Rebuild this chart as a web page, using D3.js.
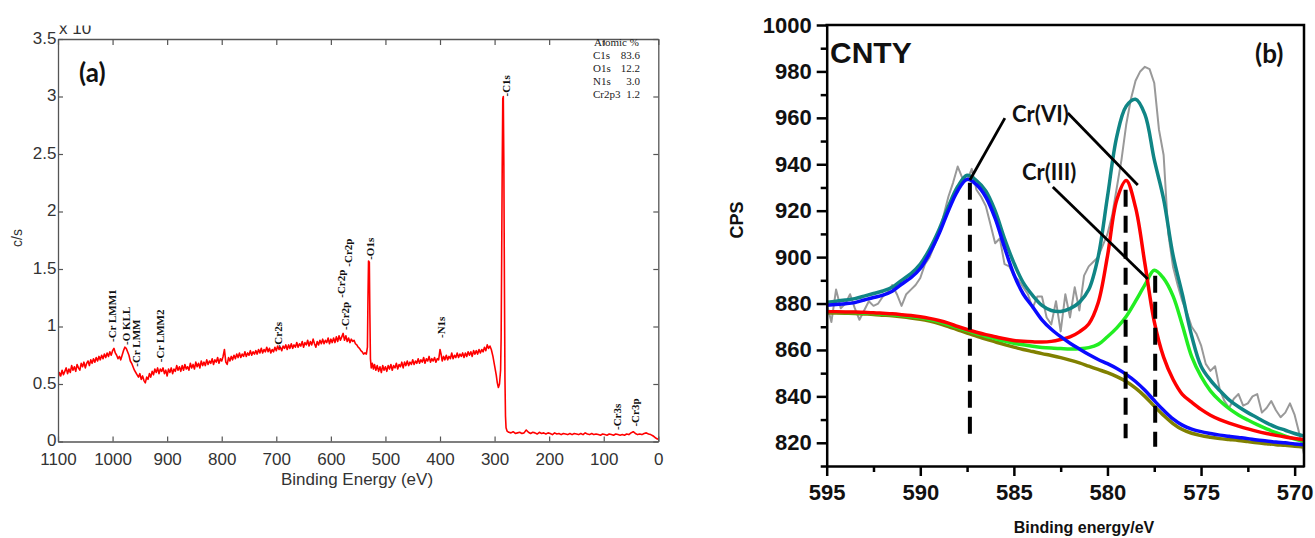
<!DOCTYPE html>
<html>
<head>
<meta charset="utf-8">
<script src="https://cdn.jsdelivr.net/npm/d3@7"></script>
<style>
  html, body { margin: 0; padding: 0; background: #fff; overflow: hidden; }
  svg { display: block; }
</style>
</head>
<body>
<svg id="fig" width="1315" height="538"></svg>
<script>
// ---------------- (a) XPS survey spectrum ----------------
// [binding energy (eV), counts (x10^4 c/s)]
const survey = [
  [1100,.55],[1097.5,.60],[1095,.57],[1092.5,.62],[1090,.58],[1087.5,.61],[1085,.64],[1082.5,.59],[1080,.63],[1077.5,.60],
  [1075,.66],[1072.5,.62],[1070,.65],[1067.5,.61],[1065,.67],[1062.5,.64],[1060,.62],[1057.5,.68],[1055,.65],[1052.5,.69],
  [1050,.64],[1047.5,.68],[1045,.70],[1042.5,.66],[1040,.71],[1037.5,.68],[1035,.72],[1032.5,.69],[1030,.73],[1027.5,.70],
  [1025,.74],[1022.5,.71],[1020,.75],[1017.5,.72],[1015,.76],[1012.5,.73],[1010,.77],[1007.5,.74],[1005,.78],[1002.5,.75],
  [1000,.79],[997.5,.81],[995,.77],[992.5,.75],[990,.72],[987.5,.74],[985,.71],[982.5,.75],[980,.79],[977.5,.82],
  [975,.81],[972.5,.78],[970,.75],[967.5,.70],[965,.68],[962.5,.65],[960,.62],[957.5,.60],[955,.58],[952.5,.56],
  [950,.59],[947.5,.54],[945,.57],[942.5,.53],[940,.51],[937.5,.56],[935,.54],[932.5,.59],[930,.56],[927.5,.61],
  [925,.58],[922.5,.63],[920,.60],[917.5,.64],[915,.59],[912.5,.63],[910,.61],[907.5,.64],[905,.59],[902.5,.62],
  [900,.57],[897.5,.63],[895,.60],[892.5,.64],[890,.59],[887.5,.63],[885,.61],[882.5,.66],[880,.62],[877.5,.65],
  [875,.61],[872.5,.66],[870,.62],[867.5,.67],[865,.63],[862.5,.65],[860,.62],[857.5,.68],[855,.64],[852.5,.67],
  [850,.63],[847.5,.69],[845,.65],[842.5,.68],[840,.64],[837.5,.70],[835,.66],[832.5,.69],[830,.66],[827.5,.71],
  [825,.67],[822.5,.70],[820,.68],[817.5,.72],[815,.67],[812.5,.71],[810,.69],[807.5,.73],[805,.68],[802.5,.72],
  [800,.70],[797.5,.74],[795,.80],[792.5,.69],[790,.67],[787.5,.73],[785,.70],[782.5,.74],[780,.71],[777.5,.75],
  [775,.72],[772.5,.76],[770,.73],[767.5,.77],[765,.73],[762.5,.76],[760,.74],[757.5,.78],[755,.74],[752.5,.77],
  [750,.75],[747.5,.79],[745,.75],[742.5,.78],[740,.76],[737.5,.79],[735,.76],[732.5,.80],[730,.77],[727.5,.81],
  [725,.77],[722.5,.80],[720,.78],[717.5,.82],[715,.78],[712.5,.81],[710,.77],[707.5,.80],[705,.78],[702.5,.82],
  [700,.79],[697.5,.83],[695,.80],[692.5,.82],[690,.79],[687.5,.83],[685,.81],[682.5,.84],[680,.80],[677.5,.84],
  [675,.81],[672.5,.85],[670,.81],[667.5,.84],[665,.82],[662.5,.86],[660,.82],[657.5,.85],[655,.83],[652.5,.87],
  [650,.82],[647.5,.86],[645,.84],[642.5,.88],[640,.83],[637.5,.87],[635,.84],[632.5,.89],[630,.85],[627.5,.82],
  [625,.87],[622.5,.84],[620,.88],[617.5,.85],[615,.89],[612.5,.85],[610,.88],[607.5,.86],[605,.90],[602.5,.85],
  [600,.89],[597.5,.86],[595,.90],[592.5,.86],[590,.91],[587.5,.87],[585,.92],[582.5,.88],[580,.91],[577.5,.94],
  [575,.88],[572.5,.92],[570,.87],[567.5,.90],[565,.86],[562.5,.89],[560,.87],[557.5,.88],[555,.85],[552.5,.84],
  [550,.82],[547.5,.81],[545,.79],[542.5,.78],[540,.76],[537.5,.77],[535,.76],[533,.82],[532,1.25],[531,1.57],
  [529.5,1.56],[528.5,1.10],[527.5,.72],[526,.64],[524,.68],[522,.63],[520,.67],[517.5,.62],[515,.66],[512.5,.61],
  [510,.65],[507.5,.60],[505,.66],[502.5,.62],[500,.65],[497.5,.61],[495,.66],[492.5,.63],[490,.67],[487.5,.62],
  [485,.66],[482.5,.64],[480,.68],[477.5,.63],[475,.67],[472.5,.65],[470,.69],[467.5,.64],[465,.69],[462.5,.66],
  [460,.70],[457.5,.66],[455,.69],[452.5,.67],[450,.71],[447.5,.67],[445,.70],[442.5,.68],[440,.72],[437.5,.68],
  [435,.71],[432.5,.69],[430,.73],[427.5,.68],[425,.72],[422.5,.70],[420,.74],[417.5,.69],[415,.72],[412.5,.70],
  [410,.73],[407.5,.69],[405,.72],[402.5,.71],[400,.80],[398,.76],[396,.70],[393.5,.74],[391,.71],[388.5,.75],
  [386,.71],[383.5,.74],[381,.72],[378.5,.77],[376,.72],[373.5,.75],[371,.73],[368.5,.77],[366,.73],[363.5,.76],
  [361,.74],[358.5,.77],[356,.73],[353.5,.77],[351,.74],[348.5,.78],[346,.75],[343.5,.78],[341,.74],[338.5,.79],
  [336,.76],[333.5,.79],[331,.76],[328.5,.80],[326,.77],[323.5,.80],[321,.78],[318.5,.82],[316,.79],[313.5,.84],
  [311,.81],[308.5,.83],[306,.80],[303,.74],[300,.66],[297,.58],[295,.51],[293,.47],[291,.50],[289,.62],
  [288,.90],[287,1.6],[286,2.4],[285,2.98],[284,3.0],[283,2.4],[282,1.4],[281,.55],[280,.22],[279,.12],
  [277,.09],[274,.08],[270,.075],[266,.085],[262,.07],[258,.075],[254,.08],[250,.07],[246,.075],[242,.10],
  [238,.08],[234,.07],[230,.08],[226,.075],[222,.065],[218,.08],[214,.07],[210,.075],[206,.065],[202,.075],
  [198,.07],[194,.06],[190,.075],[186,.065],[182,.07],[178,.06],[174,.07],[170,.065],[166,.06],[162,.07],
  [158,.06],[154,.07],[150,.065],[146,.06],[142,.07],[138,.06],[134,.075],[130,.065],[126,.06],[122,.07],
  [118,.06],[114,.065],[110,.06],[106,.055],[102,.065],[98,.06],[94,.055],[90,.065],[86,.06],[82,.055],
  [78,.065],[74,.06],[70,.055],[66,.06],[62,.055],[58,.065],[54,.06],[50,.075],[46,.085],[42,.07],
  [38,.06],[34,.065],[30,.06],[26,.07],[22,.075],[18,.065],[14,.06],[10,.05],[6,.035],[3,.025],[0,.02]
];
const surveyEnergyTicks = [1100,1000,900,800,700,600,500,400,300,200,100,0];
const surveyCountTicks = [0,0.5,1,1.5,2,2.5,3,3.5];

// peak identification labels: text, energy, level where the label starts
const peakLabelText   = ["-Cr LMM1","-O KLL","-Cr LMM","-Cr LMM2","-Cr2s","-Cr2p","-Cr2p","-Cr2p","-O1s","-N1s","-C1s","-Cr3s","-Cr3p"];
const peakLabelEnergy = [1000.2, 975.8, 956.2, 913.5, 697.2, 574.3, 581.7, 568.9, 528.6, 397.1, 277.9, 75.7, 42.7];
const peakLabelLevel  = [0.865, 0.84, 0.65, 0.69, 0.81, 0.97, 1.25, 1.52, 1.58, 0.90, 3.0, 0.10, 0.13];

// quantification table
const atomicElement = ["C1s","O1s","N1s","Cr2p3"];
const atomicPercent = [83.6, 12.2, 3.0, 1.2];

// ---------------- (b) Cr 2p high resolution ----------------
const fitEnergy = [595,594.5,594,593.5,593,592.5,592,591.5,591,590.5,590,589.5,589,588.5,588,587.5,587,586.5,586,585.5,
  585,584.5,584,583.5,583,582.5,582,581.5,581,580.5,580,579.5,579,578.5,578,577.5,577,576.5,576,575.5,
  575,574.5,574,573.5,573,572.5,572,571.5,571,570.5,570,569.5];
const background = [876.0,875.9,875.8,875.7,875.5,875.3,875.0,874.7,874.3,873.8,873.2,872.4,871.4,870.1,868.7,867.3,866.0,864.7,863.5,862.3,
  861.2,860.2,859.3,858.4,857.6,856.7,855.6,854.4,853.0,851.6,850.2,848.5,846.4,843.5,840.0,835.8,831.8,828.3,825.7,824.1,
  823.1,822.4,821.8,821.4,821.0,820.5,820.0,819.6,819.2,818.9,818.5,818.2];
const peakBlue = [879.3,879.6,879.9,880.4,881.5,882.6,883.6,885.3,888.3,891.1,895.1,901.7,910.0,920.0,928.6,933.5,931.2,925.9,916.7,904.2,
  892.5,884.1,878.6,873.0,868.9,865.7,862.9,860.4,858.0,855.9,854.1,852.0,849.5,846.4,842.6,838.2,834.0,830.3,827.6,825.9,
  824.8,824.0,823.3,822.8,822.3,821.8,821.2,820.8,820.3,820.0,819.5,819.2];
const peakRed = [876.5,876.45,876.4,876.35,876.2,876.05,875.8,875.55,875.2,874.8,874.3,873.6,872.7,871.55,870.1,868.8,867.65,866.6,865.7,864.8,
  864.1,863.7,863.5,863.4,863.7,864.5,865.6,867.8,871.2,880.2,900.4,924.7,933.0,921.4,897.2,872.2,856.9,847.4,840.9,837.5,
  834.4,831.9,830.0,828.5,827.2,826.0,824.9,824.0,823.2,822.5,821.9,821.3];
const peakGreen = [876.3,876.2,876.15,876.1,875.9,875.75,875.5,875.2,874.85,874.4,873.85,873.1,872.15,870.9,869.6,868.3,867.1,865.9,864.85,863.8,
  862.9,862.2,861.6,861.1,860.8,860.6,860.4,860.5,861.0,862.4,865.7,869.5,874.4,881.0,888.0,894.3,890.8,883.3,870.7,857.1,
  848.6,842.4,838.1,834.7,832.0,829.8,827.8,826.0,824.4,822.9,821.6,820.5];
const envelope = [880.6,881.0,881.5,882.1,883.2,884.3,885.4,887.0,890.0,892.9,897.0,903.5,911.8,921.8,930.4,935.3,933.0,928.5,919.9,908.0,
  897.5,889.0,883.5,879.2,877.0,876.6,877.8,880.5,886.0,900.0,926.0,952.0,965.0,968.0,961.5,942.0,925.0,901.0,884.0,866.0,
  853.0,847.0,842.5,838.5,835.5,833.0,830.8,828.6,826.8,825.4,824.0,822.9];
// measured spectrum [binding energy, CPS]
const rawSpectrum = [
  [595,880],[594.75,872],[594.5,886],[594.25,878],[594,880],[593.75,884],[593.5,878],[593.25,873],[593,877],[592.75,881],
  [592.5,879],[592.25,880],[592,883],[591.75,885],[591.5,888],[591.25,884],[591,879],[590.75,884],[590.5,886],[590.25,888],
  [590,891],[589.75,897],[589.5,900],[589.25,905],[589,910],[588.75,918],[588.5,926],[588.25,932],[588,939],[587.75,934],
  [587.5,933],[587.25,938],[587,929],[586.75,926],[586.5,922],[586.25,914],[586,906],[585.75,908],[585.5,897],[585.25,896],
  [585,892],[584.75,890],[584.5,887],[584.25,884],[584,878],[583.75,883],[583.5,883],[583.25,874],[583,871],[582.75,881],
  [582.5,868],[582.25,884],[582,874],[581.75,887],[581.5,877],[581.25,892],[581,896],[580.75,898],[580.5,900],[580.25,905],
  [580,910],[579.75,918],[579.5,930],[579.25,942],[579,957],[578.75,968],[578.5,976],[578.25,980],[578,982],[577.75,981],
  [577.5,975],[577.25,955],[577,944],[576.75,910],[576.5,896],[576.25,888],[576,881],[575.75,876],[575.5,870],[575.25,867],
  [575,862],[574.75,854],[574.5,851],[574.25,853],[574,843],[573.75,838],[573.5,835],[573.25,839],[573,841],[572.75,836],
  [572.5,837],[572.25,840],[572,841],[571.75,833],[571.5,835],[571.25,838],[571,834],[570.75,831],[570.5,833],[570.25,837],
  [570,832],[569.75,824],[569.5,815]
];
const energyTicks = [595,590,585,580,575,570];
const energyMinorTicks = [592.5,587.5,582.5,577.5,572.5];
const cpsTicks = [820,840,860,880,900,920,940,960,980,1000];
const cpsMinorTicks = [810,830,850,870,890,910,930,950,970,990];

// component peak positions and the span of their marker lines
const peakEnergy = [587.35, 579.03, 577.45];
const peakTop    = [932, 929, 892];
const peakFloor  = [822, 822, 818.3];

// assignment callouts
const calloutText = ["Cr(VI)", "Cr(III)"];
const calloutPos  = [[585.1, 958.2], [584.57, 933.2]];
const leaderFrom  = [[585.48, 959.9], [582.12, 962.1], [582.92, 930.2]];
const leaderTo    = [[587.35, 933.2], [578.38, 931.1], [577.85, 890.6]];

// =====================================================================
const svg = d3.select("#fig");
const defs = svg.append("defs");
const SANS = "'Liberation Sans', Arial, sans-serif";
const SERIF = "'Liberation Serif', 'Times New Roman', serif";
const HUMAN = "Lato, 'Open Sans', sans-serif";

// ---------------- panel (a) ----------------
const xA = d3.scaleLinear().domain([1100, 0]).range([58, 658.3]);
const yA = d3.scaleLinear().domain([0, 3.5]).range([441.5, 39]);
const gA = svg.append("g");
const frameA = "#555";

defs.append("clipPath").attr("id", "clipA").append("rect")
  .attr("x", xA(1100)).attr("y", yA(3.5))
  .attr("width", xA(0) - xA(1100)).attr("height", yA(0) - yA(3.5));
defs.append("clipPath").attr("id", "clipTop").append("rect")
  .attr("x", 0).attr("y", 25.5).attr("width", 700).attr("height", 40);

gA.append("path").datum(survey)
  .attr("clip-path", "url(#clipA)")
  .attr("fill", "none").attr("stroke", "#ff0000").attr("stroke-width", 1.6)
  .attr("stroke-linejoin", "round")
  .attr("d", d3.line().x(d => xA(d[0])).y(d => yA(d[1])));

function styleAxisA(g) {
  g.attr("font-family", SANS).attr("font-size", 17);
  g.select(".domain").attr("stroke", frameA).attr("stroke-width", 1.3);
  g.selectAll(".tick line").attr("stroke", frameA).attr("stroke-width", 1.2);
  g.selectAll(".tick text").attr("fill", "#333");
}
gA.append("g").attr("transform", `translate(0,${yA(0)})`)
  .call(d3.axisBottom(xA).tickValues(surveyEnergyTicks).tickSizeInner(-5).tickSizeOuter(0)
    .tickPadding(11.5).tickFormat(d3.format("d")))
  .call(styleAxisA);
gA.append("g").attr("transform", `translate(0,${yA(3.5)})`)
  .call(d3.axisTop(xA).tickValues(surveyEnergyTicks).tickSizeInner(-6).tickSizeOuter(0).tickFormat(""))
  .call(styleAxisA);
gA.append("g").attr("transform", `translate(${xA(1100)},0)`)
  .call(d3.axisLeft(yA).tickValues(surveyCountTicks).tickSizeInner(-5).tickSizeOuter(0)
    .tickPadding(1.5).tickFormat(d => String(d)))
  .call(styleAxisA)
  .call(g => g.selectAll(".tick text").attr("dy", "0.26em"));
gA.append("g").attr("transform", `translate(${xA(0)},0)`)
  .call(d3.axisRight(yA).tickValues(surveyCountTicks).tickSizeInner(-5).tickSizeOuter(0).tickFormat(""))
  .call(styleAxisA);

// exponent marker above the frame (upper part cut off)
gA.append("text").attr("clip-path", "url(#clipTop)")
  .attr("x", 59).attr("y", 33.5)
  .attr("font-family", SANS).attr("font-size", 17).attr("fill", "#333")
  .text("x 10");

gA.append("text").attr("x", 22).attr("y", 238)
  .attr("transform", "rotate(-90,22,238)")
  .attr("text-anchor", "middle")
  .attr("font-family", SANS).attr("font-size", 14).attr("fill", "#333")
  .text("c/s");
gA.append("text").attr("x", 357).attr("y", 485)
  .attr("text-anchor", "middle")
  .attr("font-family", SANS).attr("font-size", 17).attr("fill", "#333")
  .text("Binding Energy (eV)");
gA.append("text").attr("x", 79).attr("y", 82)
  .attr("font-family", HUMAN).attr("font-weight", "bold").attr("font-size", 26).attr("fill", "#111")
  .text("(a)");

// peak identifications
gA.append("g").selectAll("text").data(peakLabelText).join("text")
  .attr("transform", (d, i) => `translate(${xA(peakLabelEnergy[i]) + 3.8},${yA(peakLabelLevel[i])}) rotate(-90)`)
  .attr("font-family", SERIF).attr("font-weight", "bold").attr("font-size", 11).attr("fill", "#111")
  .text(d => d);

// quantification table
const tab = gA.append("g").attr("font-family", SERIF).attr("font-size", 11).attr("fill", "#222");
tab.append("text").attr("x", 594).attr("y", 46).text("Atomic %");
tab.selectAll("text.el").data(atomicElement).join("text").attr("class", "el")
  .attr("x", 593).attr("y", (d, i) => 58.5 + i * 13.3).text(d => d);
tab.selectAll("text.pc").data(atomicPercent).join("text").attr("class", "pc")
  .attr("x", 640).attr("y", (d, i) => 58.5 + i * 13.3).attr("text-anchor", "end")
  .text(d => d.toFixed(1));

// ---------------- panel (b) ----------------
const xB = d3.scaleLinear().domain([595, 569.5]).range([826.7, 1304]);
const yB = d3.scaleLinear().domain([810, 1000]).range([466, 25]);
const gB = svg.append("g");

defs.append("clipPath").attr("id", "clipB").append("rect")
  .attr("x", xB(595)).attr("y", yB(1000))
  .attr("width", xB(569.5) - xB(595)).attr("height", yB(810) - yB(1000));

const curves = gB.append("g").attr("clip-path", "url(#clipB)");
curves.append("path").datum(rawSpectrum)
  .attr("fill", "none").attr("stroke", "#999").attr("stroke-width", 2).attr("stroke-linejoin", "round")
  .attr("d", d3.line().x(d => xB(d[0])).y(d => yB(d[1])));

const fitLine = d3.line().x((d, i) => xB(fitEnergy[i])).y(d => yB(d)).curve(d3.curveCatmullRom.alpha(0.5));
const fits = [
  [envelope, "#108585"],
  [background, "#808000"],
  [peakGreen, "#22ee22"],
  [peakRed, "#ff0000"],
  [peakBlue, "#0a0aff"]
];
fits.forEach(([vals, col]) => {
  curves.append("path").datum(vals)
    .attr("fill", "none").attr("stroke", col).attr("stroke-width", 3.5)
    .attr("stroke-linejoin", "round").attr("stroke-linecap", "round")
    .attr("d", fitLine);
});

// peak position markers
gB.append("g").selectAll("line").data(peakEnergy).join("line")
  .attr("x1", d => xB(d)).attr("x2", d => xB(d))
  .attr("y1", (d, i) => yB(peakTop[i])).attr("y2", (d, i) => yB(peakFloor[i]))
  .attr("stroke", "#000").attr("stroke-width", 4).attr("stroke-dasharray", "17,9");

// callout leaders and labels
gB.append("g").selectAll("line").data(leaderFrom).join("line")
  .attr("x1", d => xB(d[0])).attr("y1", d => yB(d[1]))
  .attr("x2", (d, i) => xB(leaderTo[i][0])).attr("y2", (d, i) => yB(leaderTo[i][1]))
  .attr("stroke", "#000").attr("stroke-width", 2.8);
gB.append("g").selectAll("text").data(calloutText).join("text")
  .attr("x", (d, i) => xB(calloutPos[i][0])).attr("y", (d, i) => yB(calloutPos[i][1]))
  .attr("font-family", HUMAN).attr("font-weight", "bold").attr("font-size", 22).attr("fill", "#111")
  .text(d => d);

// axes
function styleAxisB(g) {
  g.attr("font-family", SANS).attr("font-size", 22).attr("font-weight", "bold");
  g.select(".domain").attr("stroke", "#000").attr("stroke-width", 2.5);
  g.selectAll(".tick line").attr("stroke", "#000").attr("stroke-width", 2.5);
  g.selectAll(".tick text").attr("fill", "#111");
}
gB.append("g").attr("transform", `translate(0,${yB(810)})`)
  .call(d3.axisBottom(xB).tickValues(energyMinorTicks).tickSize(6).tickFormat(""))
  .call(styleAxisB).call(g => g.select(".domain").remove());
gB.append("g").attr("transform", `translate(${xB(595)},0)`)
  .call(d3.axisLeft(yB).tickValues(cpsMinorTicks).tickSize(6).tickFormat(""))
  .call(styleAxisB).call(g => g.select(".domain").remove());
gB.append("g").attr("transform", `translate(0,${yB(810)})`)
  .call(d3.axisBottom(xB).tickValues(energyTicks).tickSizeInner(10).tickSizeOuter(0)
    .tickPadding(8.4).tickFormat(d3.format("d")))
  .call(styleAxisB);
gB.append("g").attr("transform", `translate(${xB(595)},0)`)
  .call(d3.axisLeft(yB).tickValues(cpsTicks).tickSizeInner(10).tickSizeOuter(0)
    .tickPadding(5).tickFormat(d3.format("d")))
  .call(styleAxisB);
// top and right frame
gB.append("path")
  .attr("d", `M${xB(595)},${yB(1000)}H${xB(569.5)}V${yB(810)}`)
  .attr("fill", "none").attr("stroke", "#000").attr("stroke-width", 2.5).attr("stroke-linecap", "square");

gB.append("text").attr("x", 830).attr("y", 63)
  .attr("font-family", SANS).attr("font-weight", "bold").attr("font-size", 30).attr("fill", "#111")
  .text("CNTY");
gB.append("text").attr("x", 1255).attr("y", 63)
  .attr("font-family", HUMAN).attr("font-weight", "bold").attr("font-size", 26).attr("fill", "#111")
  .text("(b)");
gB.append("text").attr("x", 743).attr("y", 220)
  .attr("transform", "rotate(-90,743,220)").attr("text-anchor", "middle")
  .attr("font-family", SANS).attr("font-weight", "bold").attr("font-size", 18).attr("fill", "#111")
  .text("CPS");
gB.append("text").attr("x", 1084).attr("y", 533).attr("text-anchor", "middle")
  .attr("font-family", SANS).attr("font-weight", "bold").attr("font-size", 16).attr("fill", "#111")
  .text("Binding energy/eV");
</script>
</body>
</html>
